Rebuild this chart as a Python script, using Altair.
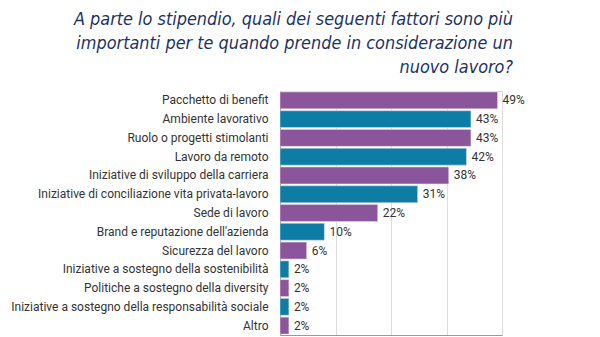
import altair as alt
import pandas as pd

categories = [
    "Pacchetto di benefit",
    "Ambiente lavorativo",
    "Ruolo o progetti stimolanti",
    "Lavoro da remoto",
    "Iniziative di sviluppo della carriera",
    "Iniziative di conciliazione vita privata-lavoro",
    "Sede di lavoro",
    "Brand e reputazione dell'azienda",
    "Sicurezza del lavoro",
    "Iniziative a sostegno della sostenibilità",
    "Politiche a sostegno della diversity",
    "Iniziative a sostegno della responsabilità sociale",
    "Altro",
]
values = [49, 43, 43, 42, 38, 31, 22, 10, 6, 2, 2, 2, 2]
groups = ["a", "b"] * 6 + ["a"]
title_lines = [
    "A parte lo stipendio, quali dei seguenti fattori sono più",
    "importanti per te quando prende in considerazione un",
    "nuovo lavoro?",
]

df = pd.DataFrame({"cat": categories, "val": values, "grp": groups})
df["label"] = df["val"].astype(str) + "%"

y = alt.Y("cat:N", sort=categories, title=None,
          scale=alt.Scale(paddingInner=0.1, paddingOuter=0.05),
          axis=alt.Axis(labelFontSize=12, labelColor="#333333", labelFont="Roboto",
                        labelPadding=12, ticks=False, domainColor="#9a9a9a",
                        labelLimit=300))
x = alt.X("val:Q", title=None,
          scale=alt.Scale(domain=[0, 50], nice=False),
          axis=alt.Axis(values=[0, 12.5, 25, 37.5, 50], labels=False, ticks=False,
                        grid=True, gridColor="#dcdcdc", domainColor="#9a9a9a"))

bars = alt.Chart(df).mark_bar(stroke="#e8e0ee", strokeWidth=0.5).encode(
    y=y, x=x,
    color=alt.Color("grp:N", scale=alt.Scale(domain=["a", "b"], range=["#8A559A", "#0E7DA6"]),
                    legend=None),
)
text = alt.Chart(df).mark_text(align="left", dx=5, fontSize=12, color="#333333",
                               font="Roboto").encode(
    y=alt.Y("cat:N", sort=categories), x="val:Q", text="label:N")

chart = (bars + text).properties(
    width=222, height=244,
    title=alt.TitleParams(title_lines, anchor="end", align="right", frame="group", dx=11,
                          font="DejaVu Sans Condensed, Roboto", fontSize=17.9, fontStyle="italic",
                          fontWeight=500, color="#1B3266", lineHeight=24, offset=14),
    autosize=alt.AutoSizeParams(type="none"),
    padding={"left": 280, "top": 91, "right": 98, "bottom": 2},
).configure_view(stroke=None).configure(background="white")

chart.save("out.html", embed_options={"renderer": "svg", "actions": False})
